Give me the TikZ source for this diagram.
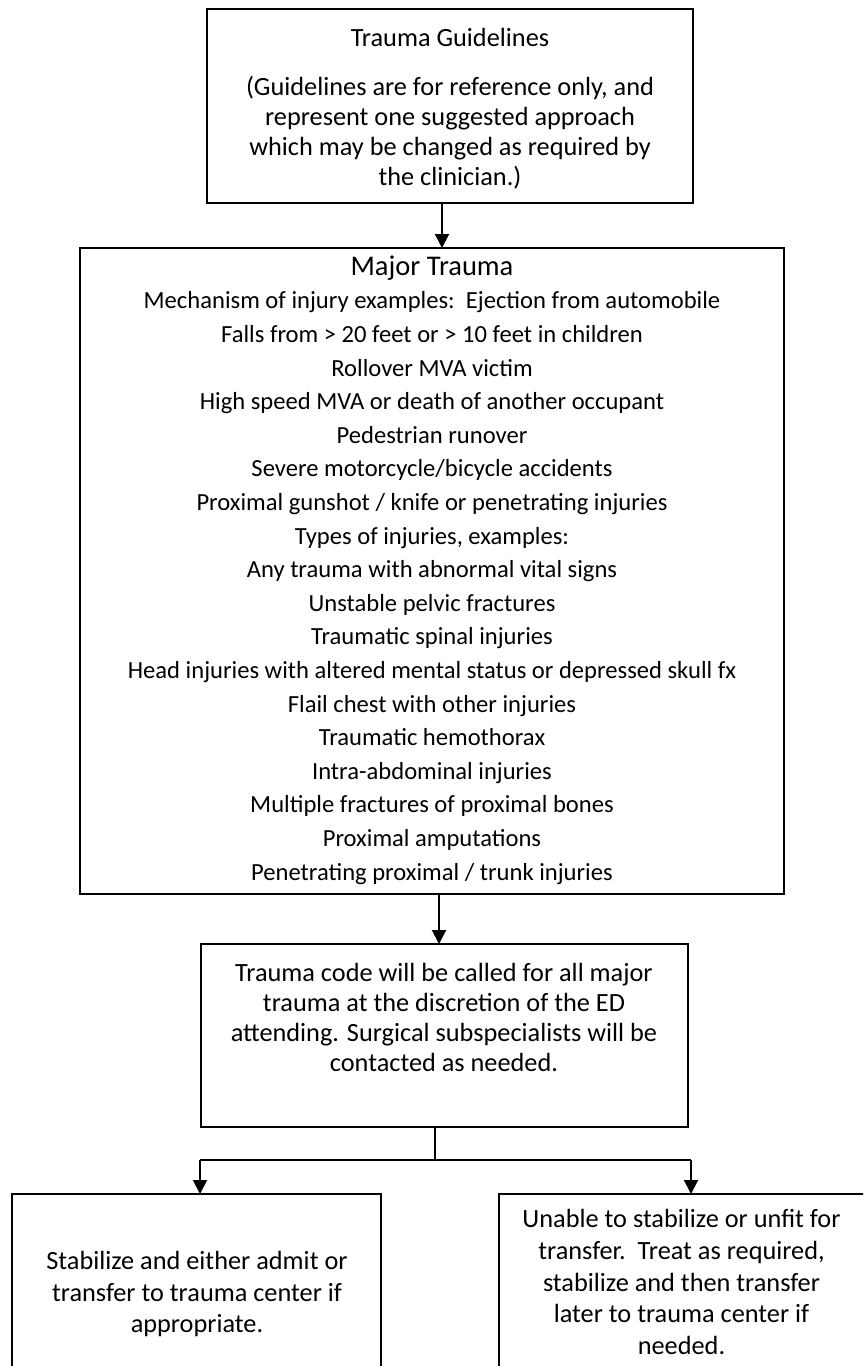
\documentclass[tikz,border=0pt]{standalone}
\usepackage{fontspec}
\setmainfont{Carlito}
\usetikzlibrary{arrows.meta}
\begin{document}
\begin{tikzpicture}[x=1pt,y=-1pt,
  boxstyle/.style={draw=black,line width=2pt,inner sep=0pt,rectangle},
  txt/.style={align=center,inner sep=0pt,font=\fontsize{26.3}{30}\selectfont},
  txtlist/.style={align=center,inner sep=0pt,font=\fontsize{24.6}{33.6}\selectfont},
  txtb/.style={align=center,inner sep=0pt,font=\fontsize{26.3}{31.7}\selectfont},
  conn/.style={line width=2pt,-{Triangle[length=14pt,width=14pt]}},
  plain/.style={line width=2pt}]
\useasboundingbox (0,0) rectangle (863,1366);
\clip (0,0) rectangle (863,1366);
% boxes
\node[boxstyle,minimum width=486pt,minimum height=194pt] (b1) at (450,106) {};
\node[boxstyle,minimum width=704pt,minimum height=646pt] (b2) at (432,571) {};
\node[boxstyle,minimum width=487pt,minimum height=183pt] (b3) at (444.5,1035.5) {};
\node[boxstyle,minimum width=369pt,minimum height=200pt] (b4) at (196.5,1294) {};
\node[boxstyle,minimum width=366pt,minimum height=200pt] (b5) at (682,1294) {};
% texts
\node[txt] (t1a) at (450,37) {Trauma Guidelines};
\node[txt] (t1b) at (450,133) {(Guidelines are for reference only, and\\represent one suggested approach\\which may be changed as required by\\the clinician.)};
\node[txt,font=\fontsize{28.5}{34}\selectfont] (t2a) at (432,268) {Major Trauma};
\node[txtlist] (t2b) at (432,588) {Mechanism of injury examples:\ \ Ejection from automobile\\
Falls from > 20 feet or > 10 feet in children\\
Rollover MVA victim\\
High speed MVA or death of another occupant\\
Pedestrian runover\\
Severe motorcycle/bicycle accidents\\
Proximal gunshot / knife or penetrating injuries\\
Types of injuries, examples:\\
Any trauma with abnormal vital signs\\
Unstable pelvic fractures\\
Traumatic spinal injuries\\
Head injuries with altered mental status or depressed skull fx\\
Flail chest with other injuries\\
Traumatic hemothorax\\
Intra-abdominal injuries\\
Multiple fractures of proximal bones\\
Proximal amputations\\
Penetrating proximal / trunk injuries};
\node[txt] (t3) at (444,1017) {Trauma code will be called for all major\\trauma at the discretion of the ED\\attending. Surgical subspecialists will be\\contacted as needed.};
\node[txtb] (t4) at (197,1294) {Stabilize and either admit or\\transfer to trauma center if\\appropriate.};
\node[txtb] (t5) at (681.5,1282) {Unable to stabilize or unfit for\\transfer.\ \ Treat as required,\\stabilize and then transfer\\later to trauma center if\\needed.};
% connectors
\coordinate (s1) at (442,203);
\coordinate (e1) at (442,248);
\draw[conn] (s1) -- (e1);
\coordinate (s2) at (439,894);
\coordinate (e2) at (439,944);
\draw[conn] (s2) -- (e2);
\coordinate (s3) at (435,1127);
\coordinate (j3) at (435,1160);
\coordinate (jl) at (200,1160);
\coordinate (jr) at (691,1160);
\coordinate (el) at (200,1194);
\coordinate (er) at (691,1194);
\draw[plain] (s3) -- (j3);
\draw[plain] (jl) -- (jr);
\draw[conn] (jl) -- (el);
\draw[conn] (jr) -- (er);
\end{tikzpicture}
\end{document}
